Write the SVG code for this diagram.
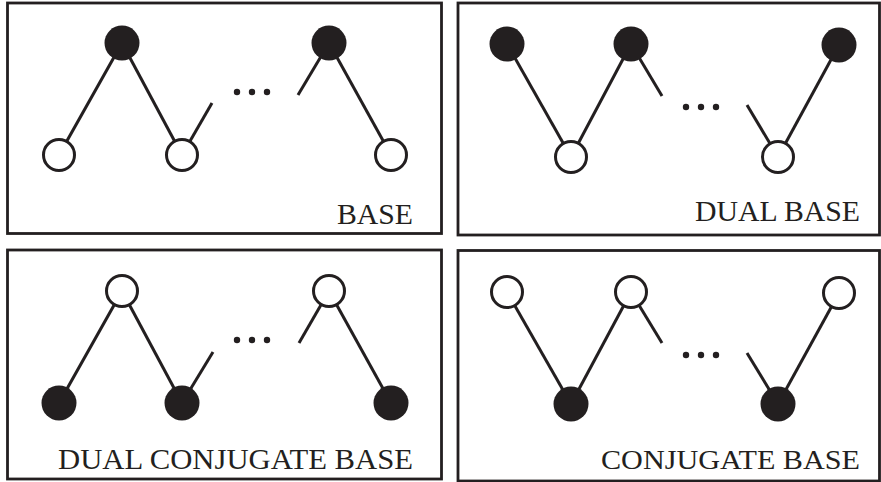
<svg xmlns="http://www.w3.org/2000/svg" width="881" height="482" viewBox="0 0 881 482">
<style>
.frame{fill:none;stroke:#231f20;stroke-width:2.8}
.edge{stroke:#231f20;stroke-width:3;fill:none}
.full{fill:#231f20;stroke:none}
.open{fill:#fff;stroke:#231f20;stroke-width:3}
.dot{fill:#231f20}
.lbl{font-family:"Liberation Serif","Times New Roman",serif;fill:#231f20}
</style>
<rect width="881" height="482" fill="#fff"/>
<g id="frames">
<rect class="frame" x="7.5" y="3" width="434" height="230.5"/>
<rect class="frame" x="458" y="3" width="421.5" height="232"/>
<rect class="frame" x="7.5" y="250" width="434" height="229"/>
<rect class="frame" x="458" y="250.5" width="421.5" height="230.5"/>
</g>
<g id="connectors">
<!-- panel 1 -->
<line class="edge" x1="122" y1="43" x2="59" y2="155"/>
<line class="edge" x1="122" y1="43" x2="182" y2="155"/>
<line class="edge" x1="182" y1="155" x2="212" y2="103"/>
<line class="edge" x1="298" y1="95" x2="329" y2="43"/>
<line class="edge" x1="329" y1="43" x2="391" y2="155"/>
<!-- panel 2 -->
<line class="edge" x1="507" y1="44" x2="571" y2="157"/>
<line class="edge" x1="571" y1="157" x2="631" y2="44"/>
<line class="edge" x1="631" y1="44" x2="662" y2="96"/>
<line class="edge" x1="747" y1="105" x2="778" y2="157"/>
<line class="edge" x1="778" y1="157" x2="839" y2="45"/>
<!-- panel 3 -->
<line class="edge" x1="122" y1="291" x2="59" y2="403"/>
<line class="edge" x1="122" y1="291" x2="182" y2="403"/>
<line class="edge" x1="182" y1="403" x2="213" y2="352"/>
<line class="edge" x1="299" y1="343" x2="329" y2="291"/>
<line class="edge" x1="329" y1="291" x2="391" y2="403"/>
<!-- panel 4 -->
<line class="edge" x1="507" y1="292" x2="571" y2="404"/>
<line class="edge" x1="571" y1="404" x2="631" y2="292"/>
<line class="edge" x1="631" y1="292" x2="662" y2="343"/>
<line class="edge" x1="747" y1="353" x2="778" y2="404"/>
<line class="edge" x1="778" y1="404" x2="839" y2="293"/>
</g>
<g id="ellipses">
<circle class="dot" cx="237" cy="92" r="3.2"/><circle class="dot" cx="252" cy="92" r="3.2"/><circle class="dot" cx="267" cy="92" r="3.2"/>
<circle class="dot" cx="686" cy="107" r="3.2"/><circle class="dot" cx="701" cy="107" r="3.2"/><circle class="dot" cx="716" cy="107" r="3.2"/>
<circle class="dot" cx="237" cy="340" r="3.2"/><circle class="dot" cx="252" cy="340" r="3.2"/><circle class="dot" cx="267" cy="340" r="3.2"/>
<circle class="dot" cx="686" cy="355" r="3.2"/><circle class="dot" cx="701" cy="355" r="3.2"/><circle class="dot" cx="716" cy="355" r="3.2"/>
</g>
<!-- panel 1 nodes -->
<g id="p1-n1"><circle class="full" cx="122" cy="43" r="17.5"/></g>
<g id="p1-n2"><circle class="full" cx="329" cy="43" r="17.5"/></g>
<g id="p1-n3"><circle class="open" cx="59" cy="155" r="15.5"/></g>
<g id="p1-n4"><circle class="open" cx="182" cy="155" r="15.5"/></g>
<g id="p1-n5"><circle class="open" cx="391" cy="155" r="15.5"/></g>
<!-- panel 2 nodes -->
<g id="p2-n1"><circle class="full" cx="507" cy="44" r="17.5"/></g>
<g id="p2-n2"><circle class="full" cx="631" cy="44" r="17.5"/></g>
<g id="p2-n3"><circle class="full" cx="839" cy="45" r="17.5"/></g>
<g id="p2-n4"><circle class="open" cx="571" cy="157" r="15.5"/></g>
<g id="p2-n5"><circle class="open" cx="778" cy="157" r="15.5"/></g>
<!-- panel 3 nodes -->
<g id="p3-n1"><circle class="open" cx="122" cy="291" r="15.5"/></g>
<g id="p3-n2"><circle class="open" cx="329" cy="291" r="15.5"/></g>
<g id="p3-n3"><circle class="full" cx="59" cy="403" r="17.5"/></g>
<g id="p3-n4"><circle class="full" cx="182" cy="403" r="17.5"/></g>
<g id="p3-n5"><circle class="full" cx="391" cy="403" r="17.5"/></g>
<!-- panel 4 nodes -->
<g id="p4-n1"><circle class="open" cx="507" cy="292" r="15.5"/></g>
<g id="p4-n2"><circle class="open" cx="631" cy="292" r="15.5"/></g>
<g id="p4-n3"><circle class="open" cx="839" cy="293" r="15.5"/></g>
<g id="p4-n4"><circle class="full" cx="571" cy="404" r="17.5"/></g>
<g id="p4-n5"><circle class="full" cx="778" cy="404" r="17.5"/></g>
<g id="labels">
<text class="lbl" x="337" y="224" font-size="30" textLength="76" lengthAdjust="spacingAndGlyphs">BASE</text>
<text class="lbl" x="695" y="221" font-size="29.5" textLength="165" lengthAdjust="spacingAndGlyphs">DUAL BASE</text>
<text class="lbl" x="58" y="469" font-size="30" textLength="355" lengthAdjust="spacingAndGlyphs">DUAL CONJUGATE BASE</text>
<text class="lbl" x="601" y="469" font-size="27" textLength="259" lengthAdjust="spacingAndGlyphs">CONJUGATE BASE</text>
</g>
</svg>
